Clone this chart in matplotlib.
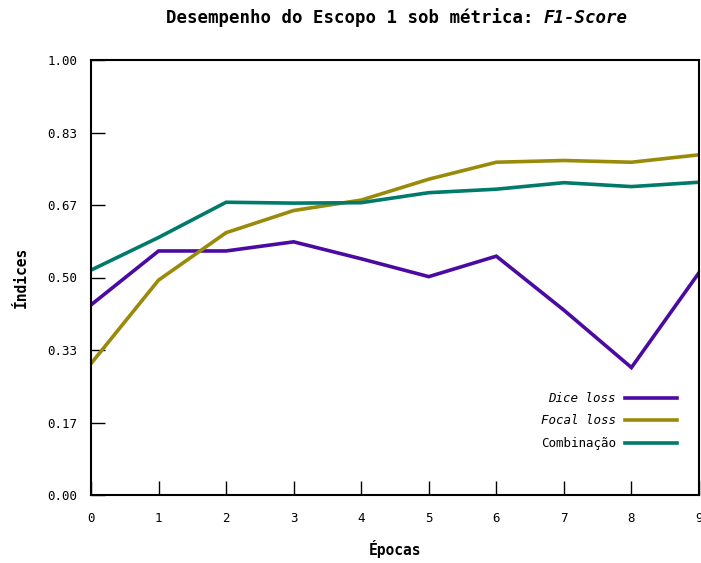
import matplotlib
matplotlib.use("Agg")
import matplotlib.pyplot as plt
import numpy as np

# F1-Score per epoch for each loss function
epocas = [0, 1, 2, 3, 4, 5, 6, 7, 8, 9]
dice_loss = [0.437, 0.561, 0.561, 0.582, 0.543, 0.502, 0.549, 0.425, 0.293, 0.511]
focal_loss = [0.302, 0.494, 0.603, 0.654, 0.678, 0.726, 0.765, 0.769, 0.765, 0.782]
combinacao = [0.517, 0.592, 0.673, 0.671, 0.672, 0.695, 0.703, 0.718, 0.709, 0.719]

series_labels = ["Dice loss", "Focal loss", "Combinação"]
series_colors = ["#4B0AA1", "#9A8A0A", "#007A6A"]
y_ticks = [0, 1 / 6, 2 / 6, 3 / 6, 4 / 6, 5 / 6, 1]

mono = "DejaVu Sans Mono"
plt.rcParams["font.family"] = [mono]

W, H = 701, 563
fig = plt.figure(figsize=(W / 100, H / 100), dpi=100)
ax = fig.add_axes([91 / W, 1 - 495 / H, (699 - 91) / W, (495 - 60) / H])

for vals, lab, col in zip([dice_loss, focal_loss, combinacao], series_labels, series_colors):
    ax.plot(epocas, vals, color=col, lw=2.6, label=lab, solid_joinstyle="miter")

ax.set_xlim(0, 9)
ax.set_ylim(0, 1)
ax.set_xticks(epocas)
ax.set_yticks(y_ticks)
ax.set_yticklabels([f"{v:.2f}" for v in y_ticks])
ax.tick_params(axis="both", direction="in", length=10, width=1, labelsize=9,
               top=False, right=False)
ax.tick_params(axis="x", pad=12)
ax.tick_params(axis="y", pad=10)
for s in ax.spines.values():
    s.set_linewidth(1.5)

ax.set_xlabel("Épocas", fontsize=10.5, fontweight="bold", labelpad=11)
ax.set_ylabel("Índices", fontsize=10.5, fontweight="bold", labelpad=13)

leg = ax.legend(loc="center right", bbox_to_anchor=((677 - 91) / 608, (495 - 421) / 435),
                frameon=False, markerfirst=False, fontsize=9, handlelength=4.2,
                handletextpad=0.7, labelspacing=0.75, borderpad=0, borderaxespad=0)
for t in leg.get_texts()[:2]:
    t.set_fontstyle("italic")

# Title with the metric name in italic
ty = 1 - 18 / H
fig.text(533 / W, ty, "Desempenho do Escopo 1 sob métrica:", ha="right", va="center",
         fontsize=12.5, fontweight="bold")
fig.text(544 / W, ty, "F1-Score", ha="left", va="center", fontsize=12.5,
         fontweight="bold", fontstyle="italic")

fig.savefig("out.png", dpi=100)
